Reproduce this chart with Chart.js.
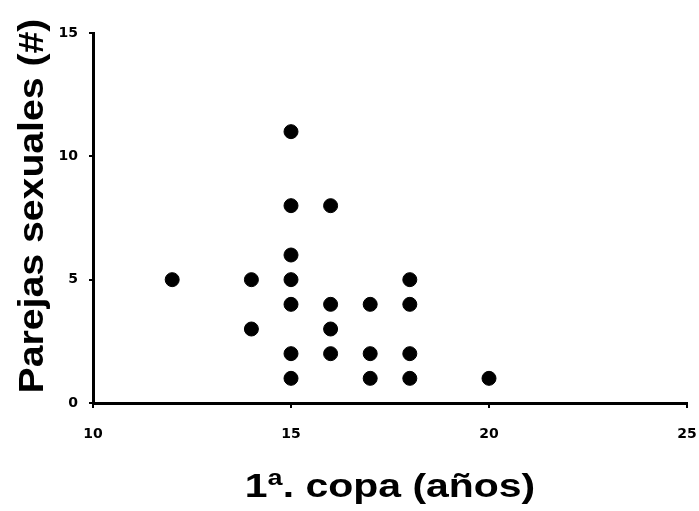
<!DOCTYPE html>
<html>
<head>
<meta charset="utf-8">
<script src="https://cdn.jsdelivr.net/npm/chart.js@4"></script>
<style>
  html, body { margin: 0; padding: 0; background: #fff; }
  #wrap { width: 699px; height: 511px; }
</style>
</head>
<body>
<div id="wrap"><canvas id="chart" width="699" height="511"></canvas></div>
<script>
    // ==================== DATA ====================
    const ageFirstCup = [12, 14, 14, 15, 15, 15, 15, 15, 15, 15, 16, 16, 16, 16, 17, 17, 17, 18, 18, 18, 18, 20];
    const partners    = [ 5,  5,  3, 11,  8,  6,  5,  4,  2,  1,  8,  4,  3,  2,  4,  2,  1,  5,  4,  2,  1,  1];
    const xTicks = [10, 15, 20, 25];
    const yTicks = [0, 5, 10, 15];
    const xTitle = '1ª. copa (años)';
    const yTitle = 'Parejas sexuales (#)';

    const points = ageFirstCup.map((x, i) => ({ x: x, y: partners[i] }));

    // Axis titles drawn at fixed spots (text is a bit stretched, like the original)
    const titlesPlugin = {
        id: 'titles',
        afterDraw(chart) {
            const ctx = chart.ctx;
            ctx.save();
            ctx.fillStyle = '#000';
            ctx.textAlign = 'center';
            ctx.textBaseline = 'alphabetic';

            ctx.save();
            ctx.translate(390, 497);
            ctx.scale(1.24, 1);
            ctx.font = 'bold 33px "Liberation Sans", Arial, sans-serif';
            ctx.fillText(xTitle, 0, 0);
            ctx.restore();

            ctx.save();
            ctx.translate(43, 206);
            ctx.rotate(-Math.PI / 2);
            ctx.scale(1.12, 1);
            ctx.font = 'bold 35px "Liberation Sans", Arial, sans-serif';
            ctx.fillText(yTitle, 0, 0);
            ctx.restore();

            ctx.restore();
        }
    };

    const tickFont = { family: '"DejaVu Sans", Verdana, sans-serif', size: 14, weight: 'bold' };

    new Chart(document.getElementById('chart').getContext('2d'), {
        type: 'scatter',
        data: {
            datasets: [{
                data: points,
                backgroundColor: '#000',
                borderColor: '#000',
                pointRadius: 7,
                pointHoverRadius: 7
            }]
        },
        options: {
            responsive: false,
            animation: false,
            layout: { padding: { top: 33, right: 12, left: 0, bottom: 0 } },
            plugins: { legend: { display: false }, tooltip: { enabled: false } },
            scales: {
                x: {
                    type: 'linear',
                    min: 10, max: 25,
                    afterBuildTicks: s => { s.ticks = xTicks.map(v => ({ value: v })); },
                    afterFit: s => { s.height = 108; s.paddingRight = 0; s.paddingLeft = 0; },
                    border: { display: true, color: '#000', width: 3 },
                    grid: { drawOnChartArea: false, drawTicks: true, tickLength: 5, color: '#000', lineWidth: 2 },
                    ticks: { color: '#000', font: tickFont, padding: 18, maxRotation: 0 }
                },
                y: {
                    type: 'linear',
                    min: 0, max: 15,
                    afterBuildTicks: s => { s.ticks = yTicks.map(v => ({ value: v })); },
                    afterFit: s => { s.width = 93; s.paddingTop = 0; s.paddingBottom = 0; },
                    border: { display: true, color: '#000', width: 3 },
                    grid: { drawOnChartArea: false, drawTicks: true, tickLength: 4, color: '#000', lineWidth: 2 },
                    ticks: { color: '#000', font: tickFont, padding: 11 }
                }
            }
        },
        plugins: [titlesPlugin]
    });
</script>
</body>
</html>
